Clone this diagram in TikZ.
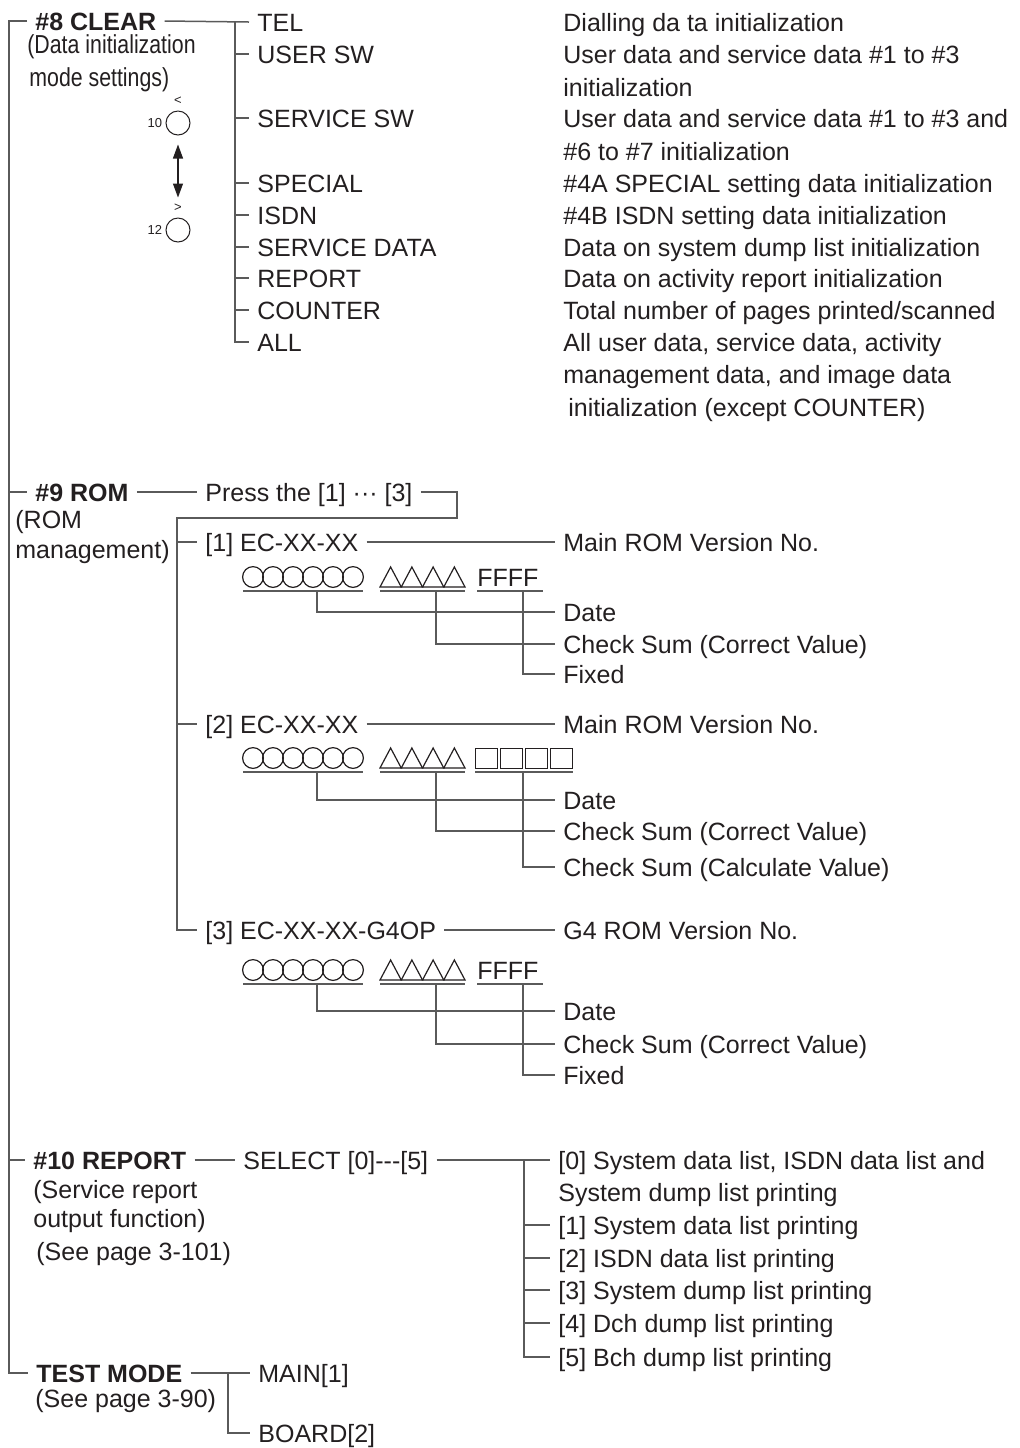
\documentclass[tikz,border=0pt]{standalone}
\usepackage{fontspec}
\setmainfont{Liberation Sans}
\newfontfamily\narrowfont{Liberation Sans}[FakeStretch=0.82]
\usepackage{tikz}
\usetikzlibrary{arrows.meta,positioning}
\definecolor{ink}{HTML}{231F20}
\definecolor{wire}{HTML}{5A5A5A}
\newcommand{\dg}{\fontsize{12.5}{16}\selectfont}

\begin{document}
\begin{tikzpicture}[x=0.5pt,y=-0.5pt,
    wire/.style={draw=wire, line width=0.75pt},
    lbl/.style={anchor=west, inner xsep=4pt, inner ysep=0pt,
      text height=9pt, text depth=0pt, font=\dg, text=ink},
    hd/.style={lbl, font=\dg\bfseries},
    note/.style={anchor=base west, inner sep=0pt, font=\dg, text=ink},
    sym/.style={draw=ink, line width=0.6pt},
    tiny/.style={inner sep=0pt, font=\fontsize{6.5}{7}\selectfont, text=ink},
    dial/.style={circle, draw=ink, line width=0.5pt, minimum size=12pt, inner sep=0pt}]

  \useasboundingbox (0,0) rectangle (1019,1448);

  % Bus lines
  \coordinate (trunk) at (9,0);
  \coordinate (bus8) at (235,0);
  \coordinate (rombus) at (177,0);
  \coordinate (romjog) at (457,518);
  \coordinate (bus10) at (524,0);
  \coordinate (bustest) at (228,0);

  % #8 CLEAR
  \node[hd] (clear) at (27,21) {\#8 CLEAR};
  \node[note, font=\fontsize{13}{16}\selectfont\narrowfont] at (27,53) {(Data initialization};
  \node[note, font=\fontsize{13}{16}\selectfont\narrowfont] at (29,86) {mode settings)};

  \node[lbl] (tel) at (249,22) {TEL};
  \node[lbl] (usersw) at (249,54) {USER SW};
  \node[lbl] (servicesw) at (249,118) {SERVICE SW};
  \node[lbl] (special) at (249,183) {SPECIAL};
  \node[lbl] (isdn) at (249,215) {ISDN};
  \node[lbl] (servicedata) at (249,247) {SERVICE DATA};
  \node[lbl] (report) at (249,278) {REPORT};
  \node[lbl] (counter) at (249,310) {COUNTER};
  \node[lbl] (all) at (249,342) {ALL};

  \node[lbl] (dtel) at (555,22) {Dialling da ta initialization};
  \node[lbl] (duser) at (555,54) {User data and service data \#1 to \#3};
  \node[lbl] (duserb) at (555,87) {initialization};
  \node[lbl] (dserv) at (555,118) {User data and service data \#1 to \#3 and};
  \node[lbl] (dservb) at (555,151) {\#6 to \#7 initialization};
  \node[lbl] (dspec) at (555,183) {\#4A SPECIAL setting data initialization};
  \node[lbl] (disdn) at (555,215) {\#4B ISDN setting data initialization};
  \node[lbl] (ddata) at (555,247) {Data on system dump list initialization};
  \node[lbl] (drep) at (555,278) {Data on activity report initialization};
  \node[lbl] (dcount) at (555,310) {Total number of pages printed/scanned};
  \node[lbl] (dall) at (555,342) {All user data, service data, activity};
  \node[lbl] (dallb) at (555,374) {management data, and image data};
  \node[lbl] (dallc) at (560,407) {initialization (except COUNTER)};

  % Mode dial
  \node[dial] (dial10) at (178,123) {};
  \node[dial] (dial12) at (178,230) {};
  \node[tiny, above=3pt of dial10] (lt) {<};
  \node[tiny, above=3pt of dial12] (gt) {>};
  \node[tiny, left=1.5pt of dial10] (n10) {10};
  \node[tiny, left=1.5pt of dial12] (n12) {12};
  \draw[ink, line width=0.6pt, {Triangle[length=7pt,width=5pt]}-{Triangle[length=7pt,width=5pt]},
    shorten <=4.5pt, shorten >=10pt] (dial10) -- (dial12);

  \draw[wire] (clear.east) -- (tel.west);
  \draw[wire] (bus8 |- tel.west) |- (all.west);
  \foreach \n in {usersw,servicesw,special,isdn,servicedata,report,counter}
    \draw[wire] (bus8 |- \n.west) -- (\n.west);

  % #9 ROM
  \node[hd] (rom) at (27,492) {\#9 ROM};
  \node[note] at (15,528) {(ROM};
  \node[note] at (15,558) {management)};
  \node[lbl] (press) at (197,492) {Press the [1] ··· [3]};

  \node[lbl] (ec1) at (197,542) {[1] EC-XX-XX};
  \node[lbl] (ver1) at (555,542) {Main ROM Version No.};
  \node[lbl] (date1) at (555,612) {Date};
  \node[lbl] (chk1) at (555,644) {Check Sum (Correct Value)};
  \node[lbl] (fix1) at (555,674) {Fixed};

  \node[lbl] (ec2) at (197,724) {[2] EC-XX-XX};
  \node[lbl] (ver2) at (555,724) {Main ROM Version No.};
  \node[lbl] (date2) at (555,800) {Date};
  \node[lbl] (chk2) at (555,831) {Check Sum (Correct Value)};
  \node[lbl] (calc2) at (555,867) {Check Sum (Calculate Value)};

  \node[lbl] (ec3) at (197,930) {[3] EC-XX-XX-G4OP};
  \node[lbl] (ver3) at (555,930) {G4 ROM Version No.};
  \node[lbl] (date3) at (555,1011) {Date};
  \node[lbl] (chk3) at (555,1044) {Check Sum (Correct Value)};
  \node[lbl] (fix3) at (555,1075) {Fixed};

  % Version code rows: date, check sum, last field
  \foreach \u/\r in {591/1,772/2,984/3} {
    \foreach \k in {0,...,5}
      \draw[sym] (253+\k*20,\u-14) circle[radius=5.2pt];
    \foreach \k in {0,...,3}
      \draw[sym] (380+\k*21.25,\u-4) -- ++(21.25,0) -- ++(-10.625,-20) -- cycle;
    \draw[wire] (243,\u) -- (363,\u);
    \draw[wire] (380,\u) -- (465,\u);
    \coordinate (da\r) at (317,\u);
    \coordinate (db\r) at (436,\u);
    \coordinate (dc\r) at (523,\u);
  }
  \node[note] (ff1) at (477,586) {FFFF};
  \draw[wire] (477,591) -- (543,591);
  \foreach \k in {0,...,3}
    \draw[sym, line width=0.5pt] (475+\k*25.3,768) rectangle ++(22,-20);
  \draw[wire] (475,772) -- (573,772);
  \node[note] (ff3) at (477,979) {FFFF};
  \draw[wire] (477,984) -- (543,984);

  \draw[wire] (trunk |- rom.west) -- (rom.west);
  \draw[wire] (rom.east) -- (press.west);
  \draw[wire] (press.east) -| (romjog) -- (romjog -| rombus) |- (ec3.west);
  \draw[wire] (rombus |- ec1.west) -- (ec1.west);
  \draw[wire] (rombus |- ec2.west) -- (ec2.west);
  \draw[wire] (ec1.east) -- (ver1.west);
  \draw[wire] (ec2.east) -- (ver2.west);
  \draw[wire] (ec3.east) -- (ver3.west);
  \draw[wire] (da1) |- (date1.west);
  \draw[wire] (db1) |- (chk1.west);
  \draw[wire] (dc1) |- (fix1.west);
  \draw[wire] (da2) |- (date2.west);
  \draw[wire] (db2) |- (chk2.west);
  \draw[wire] (dc2) |- (calc2.west);
  \draw[wire] (da3) |- (date3.west);
  \draw[wire] (db3) |- (chk3.west);
  \draw[wire] (dc3) |- (fix3.west);

  % #10 REPORT
  \node[hd] (rep) at (25,1160) {\#10 REPORT};
  \node[note] at (33,1198) {(Service report};
  \node[note] at (33,1227) {output function)};
  \node[note] at (36,1260) {(See page 3-101)};
  \node[lbl] (sel) at (235,1160) {SELECT [0]-{}-{}-[5]};

  \node[lbl] (r0) at (550,1160) {[0] System data list, ISDN data list and};
  \node[lbl] (r0b) at (550,1192) {System dump list printing};
  \node[lbl] (r1) at (550,1225) {[1] System data list printing};
  \node[lbl] (r2) at (550,1258) {[2] ISDN data list printing};
  \node[lbl] (r3) at (550,1290) {[3] System dump list printing};
  \node[lbl] (r4) at (550,1323) {[4] Dch dump list printing};
  \node[lbl] (r5) at (550,1357) {[5] Bch dump list printing};

  \draw[wire] (trunk |- rep.west) -- (rep.west);
  \draw[wire] (rep.east) -- (sel.west);
  \draw[wire] (sel.east) -- (r0.west);
  \draw[wire] (bus10 |- sel.east) |- (r5.west);
  \foreach \n in {r1,r2,r3,r4}
    \draw[wire] (bus10 |- \n.west) -- (\n.west);

  % TEST MODE
  \node[hd] (test) at (28,1373) {TEST MODE};
  \node[note] at (35,1407) {(See page 3-90)};
  \node[lbl] (main) at (250,1373) {MAIN[1]};
  \node[lbl] (board) at (250,1433) {BOARD[2]};

  \draw[wire] (test.east) -- (main.west);
  \draw[wire] (bustest |- main.west) |- (board.west);

  % Trunk
  \draw[wire] (clear.west) -| (trunk |- test.west) -- (test.west);

\end{tikzpicture}
\end{document}
